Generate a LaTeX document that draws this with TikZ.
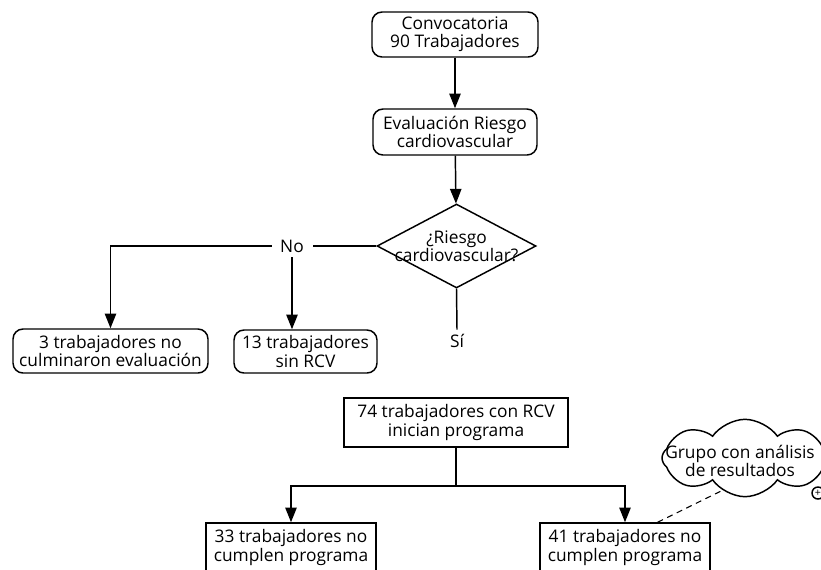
\documentclass[tikz,border=0pt]{standalone}
\usepackage{fontspec}
\setmainfont{Open Sans}
\usetikzlibrary{arrows.meta, shapes.geometric, shapes.symbols, calc}

\begin{document}
\begin{tikzpicture}[x=0.75pt,y=-0.75pt,>={Triangle[length=11pt,width=8.5pt]},
  line width=1.1pt,
  every node/.style={font=\fontsize{13}{13.8}\selectfont, align=center},
  caja/.style={draw, rounded corners=7.5pt, inner sep=0pt},
  rect/.style={draw, inner sep=0pt},
  etiq/.style={inner xsep=6pt, inner ysep=3pt}]
  \useasboundingbox (0,0) rectangle (821,569);

  % cajas de arriba
  \node[caja, minimum width=124.5pt, minimum height=33.75pt] (conv) at (455,34.5) {Convocatoria\\90 Trabajadores};
  \node[caja, minimum width=123pt, minimum height=34.5pt] (eval) at (455,132) {Evaluación Riesgo\\cardiovascular};

  % decision
  \node[diamond, draw, inner sep=0pt, minimum width=119.25pt, minimum height=63pt] (riesgo) at (456.5,246) {};
  \node (preg) at (riesgo) {¿Riesgo\\cardiovascular?};
  \node[etiq] (no) at (292,246) {No};
  \node[etiq] (si) at (457,341) {Sí};

  \node[caja, minimum width=146.25pt, minimum height=33pt] (b3) at (110.5,351) {3 trabajadores no\\culminaron evaluación};
  \node[caja, minimum width=107.25pt, minimum height=32.25pt] (b13) at (305.5,351.5) {13 trabajadores\\sin RCV};

  % programa
  \node[rect, minimum width=168pt, minimum height=36.75pt] (b74) at (456,422.5) {74 trabajadores con RCV\\inician programa};
  \node[rect, minimum width=127.5pt, minimum height=36.75pt] (b33) at (291,547.5) {33 trabajadores no\\cumplen programa};
  \node[rect, minimum width=127.5pt, minimum height=36.75pt] (b41) at (625,547.5) {41 trabajadores no\\cumplen programa};
  \coordinate (div) at (456,486);

  % nube
  \node[cloud, draw, cloud puffs=8, cloud puff arc=110, aspect=2.1, inner sep=0pt, minimum width=124.5pt, minimum height=58pt] (nube) at (745,458) {};
  \node (grupo) at (740,461) {Grupo con análisis\\de resultados};
  \node[circle, draw, fill=white, inner sep=0pt, minimum size=9pt, font=\fontsize{8}{8}\selectfont] (mas) at (818,493) {+};

  % flechas
  \draw[->] (conv) -- (eval);
  \draw[->] (eval) -- (riesgo);
  \draw (riesgo.west) -- (no.east);
  \draw[->] (no.west) -| (b3.north);
  \draw[->] (no.south) -- (no.south |- b13.north);
  \draw (riesgo.south) -- (si.north);
  \draw (b74.south) -- (div);
  \draw[->] (div) -| (b33.north);
  \draw[->] (div) -| (b41.north);
  \draw[dashed, line width=0.8pt, dash pattern=on 4.5pt off 3.5pt] ($(b41.north west)!0.69!(b41.north east)$) -- (nube.235);
\end{tikzpicture}
\end{document}
